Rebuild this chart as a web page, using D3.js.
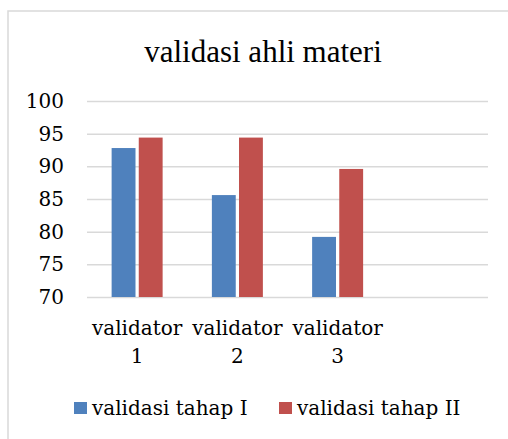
<!DOCTYPE html>
<html><head><meta charset="utf-8">
<script src="https://cdn.jsdelivr.net/npm/d3@7"></script>
<style>body{margin:0;background:#fff}svg{display:block}</style>
</head><body>
<script>
const title = "validasi ahli materi";
const categories = ["validator 1", "validator 2", "validator 3", ""];
const seriesNames = ["validasi tahap I", "validasi tahap II"];
const tahap1 = [92.8, 85.6, 79.2];
const tahap2 = [94.4, 94.4, 89.6];
const yTicks = [70, 75, 80, 85, 90, 95, 100];
const colors = ["#4f81bd", "#c0504d"];

const W = 508, H = 439;
const svg = d3.select("body").append("svg").attr("width", W).attr("height", H);
svg.append("rect").attr("x", 8).attr("y", 11).attr("width", 520).attr("height", 440)
  .attr("fill", "#fff").attr("stroke", "#d9d9d9").attr("stroke-width", 1.5);

const m = {l: 87, r: 488, t: 101, b: 297};
const x = d3.scaleBand().domain(categories.map((c,i)=>i)).range([m.l, m.r]);
const y = d3.scaleLinear().domain([70, 100]).range([m.b, m.t]);
const xs = d3.scaleBand().domain([0,1]).range([0, 51]).paddingInner(0.12);

svg.append("text").attr("x", 263).attr("y", 62).attr("text-anchor", "middle")
  .attr("font-family", "Liberation Serif").attr("font-size", 31).attr("fill", "#000").text(title);

const yAxis = svg.append("g").attr("transform", `translate(${m.l},0)`)
  .call(d3.axisLeft(y).tickValues(yTicks).tickSize(-(m.r - m.l)).tickPadding(23));
yAxis.select(".domain").remove();
yAxis.selectAll(".tick line").attr("stroke", "#d9d9d9").attr("stroke-width", 1.5);
yAxis.selectAll(".tick text").attr("font-family", "DejaVu Serif").attr("font-size", 20).attr("fill", "#000");

const data = [tahap1, tahap2];
data.forEach((vals, s) => {
  svg.append("g").selectAll("rect").data(vals).join("rect")
    .attr("x", (d,i) => x(i) + x.bandwidth()/2 - 25.5 + xs(s))
    .attr("y", d => y(d))
    .attr("width", xs.bandwidth())
    .attr("height", d => y(70) - y(d))
    .attr("fill", colors[s]);
});

categories.forEach((c, i) => {
  if (!c) return;
  const parts = c.split(" ");
  const t = svg.append("text").attr("text-anchor", "middle")
    .attr("font-family", "DejaVu Serif").attr("font-size", 20).attr("fill", "#000");
  parts.forEach((p, k) => t.append("tspan").attr("x", x(i) + x.bandwidth()/2).attr("y", 335 + k*28).text(p));
});

const legendX = [74, 279];
seriesNames.forEach((n, s) => {
  svg.append("rect").attr("x", legendX[s]).attr("y", 402).attr("width", 13).attr("height", 12).attr("fill", colors[s]);
  svg.append("text").attr("x", legendX[s] + 18).attr("y", 415)
    .attr("font-family", "DejaVu Serif").attr("font-size", 20).attr("fill", "#000").text(n);
});
</script>
</body></html>
